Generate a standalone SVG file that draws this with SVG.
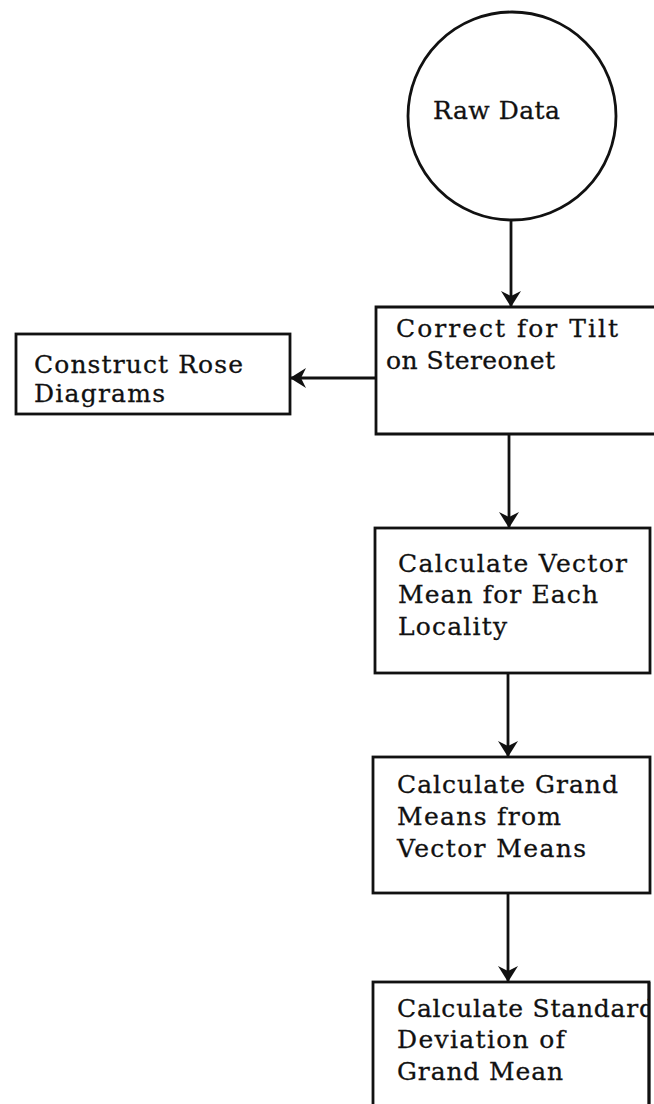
<svg xmlns="http://www.w3.org/2000/svg" width="654" height="1104" viewBox="0 0 654 1104">
  <style>
    .shape { fill: #fff; stroke: #111; stroke-width: 2.8; }
    .edge { fill: none; stroke: #111; stroke-width: 2.8; }
    text { font-family: "DejaVu Serif", "Liberation Serif", serif; font-size: 25px; fill: #111; stroke: #111; stroke-width: 0.3; }
  </style>
  <defs>
    <marker id="arrow" viewBox="-17 -11 19 22" refX="0" refY="0" markerWidth="19" markerHeight="22" markerUnits="userSpaceOnUse" orient="auto">
      <path d="M1,0 L-15,-10 L-10,0 L-15,10 Z" fill="#111"/>
    </marker>
    <clipPath id="std-clip">
      <rect x="373" y="982" width="276" height="130"/>
    </clipPath>
  </defs>
  <rect width="654" height="1104" fill="#fff"/>

  <g id="connectors">
    <line class="edge" x1="511" y1="221" x2="511" y2="306" marker-end="url(#arrow)"/>
    <line class="edge" x1="376" y1="378" x2="291" y2="378" marker-end="url(#arrow)"/>
    <line class="edge" x1="509" y1="435" x2="509" y2="527" marker-end="url(#arrow)"/>
    <line class="edge" x1="508" y1="673" x2="508" y2="756" marker-end="url(#arrow)"/>
    <line class="edge" x1="508" y1="893" x2="508" y2="981" marker-end="url(#arrow)"/>
  </g>

  <g id="raw-data">
    <circle class="shape" cx="512" cy="116" r="104"/>
    <text x="433" y="119" textLength="127">Raw Data</text>
  </g>

  <g id="correct-tilt">
    <path class="shape" d="M656,307 H376 V434 H656"/>
    <text x="396" y="337" textLength="222">Correct for Tilt</text>
    <text x="386" y="369" textLength="169">on Stereonet</text>
  </g>

  <g id="rose-diagrams">
    <rect class="shape" x="16" y="334" width="274" height="80"/>
    <text x="34" y="373" textLength="209">Construct Rose</text>
    <text x="34" y="402" textLength="131">Diagrams</text>
  </g>

  <g id="vector-mean">
    <rect class="shape" x="375" y="528" width="275" height="145"/>
    <text x="398" y="572" textLength="229">Calculate Vector</text>
    <text x="398" y="603" textLength="200">Mean for Each</text>
    <text x="398" y="635" textLength="109">Locality</text>
  </g>

  <g id="grand-means">
    <rect class="shape" x="373" y="757" width="277" height="136"/>
    <text x="397" y="793" textLength="221">Calculate Grand</text>
    <text x="397" y="825" textLength="164">Means from</text>
    <text x="397" y="857" textLength="189">Vector Means</text>
  </g>

  <g id="standard-deviation">
    <rect class="shape" x="373" y="982" width="276" height="130"/>
    <g clip-path="url(#std-clip)">
      <text x="397" y="1017" textLength="258">Calculate Standard</text>
    </g>
    <text x="397" y="1048" textLength="168">Deviation of</text>
    <text x="397" y="1080" textLength="166">Grand Mean</text>
    <line class="edge" x1="649" y1="982" x2="649" y2="1104"/>
  </g>
</svg>
